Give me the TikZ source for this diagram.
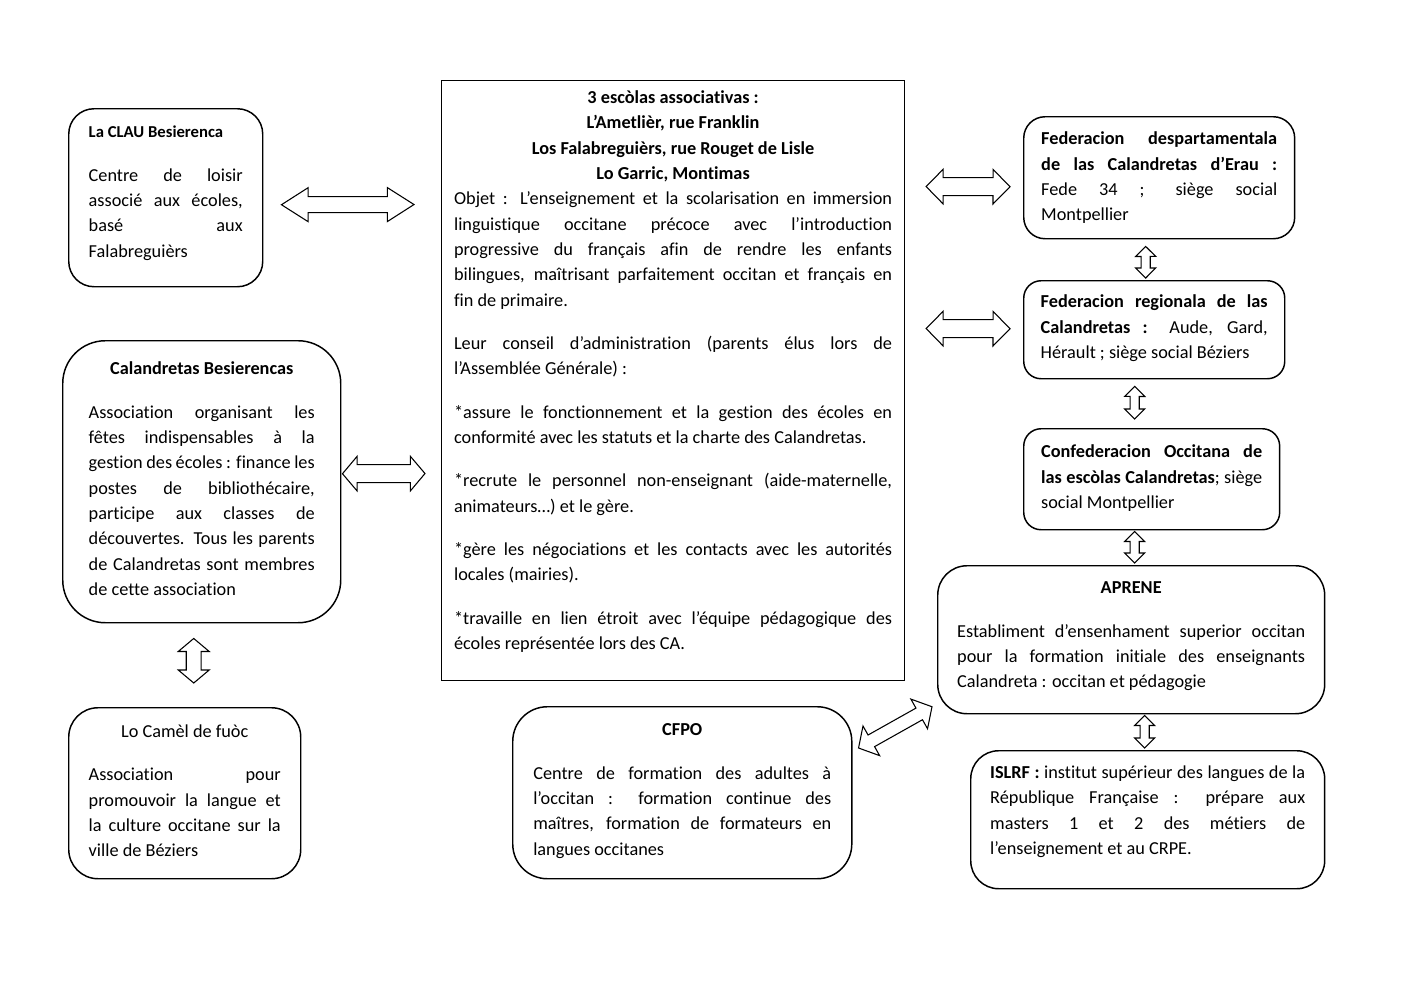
\documentclass[tikz,border=0pt]{standalone}
\usepackage{fontspec}
\setmainfont{Carlito}[Ligatures=NoCommon]
\usetikzlibrary{calc}
\hyphenpenalty=10000
\exhyphenpenalty=10000
\hbadness=10000
\vbadness=10000

\tikzset{
  orgbox/.style={draw, line width=1.1pt, anchor=north west, font=\fontsize{13.7}{19}\selectfont},
  arrowline/.style={line width=0.8pt, line join=miter},
  dblarrow/.style n args={3}{to path={
      -- ($(\tikztostart)!#1!(\tikztotarget)!#2!90:(\tikztotarget)$)
      -- ($(\tikztostart)!#1!(\tikztotarget)!#3!90:(\tikztotarget)$)
      -- ($(\tikztotarget)!#1!(\tikztostart)!#3!-90:(\tikztostart)$)
      -- ($(\tikztotarget)!#1!(\tikztostart)!#2!-90:(\tikztostart)$)
      -- (\tikztotarget)
      -- ($(\tikztotarget)!#1!(\tikztostart)!#2!90:(\tikztostart)$)
      -- ($(\tikztotarget)!#1!(\tikztostart)!#3!90:(\tikztostart)$)
      -- ($(\tikztostart)!#1!(\tikztotarget)!#3!-90:(\tikztotarget)$)
      -- ($(\tikztostart)!#1!(\tikztotarget)!#2!-90:(\tikztotarget)$)
      -- cycle}}
}

\begin{document}
\begin{tikzpicture}[x=0.75pt,y=0.75pt,yscale=-1,xscale=1]
\useasboundingbox (0,0) rectangle (1403,992);

% Text Node
\node (clau) [orgbox, rounded corners=19pt, inner xsep=15pt, inner ysep=13pt] at (68,108) {\begin{minipage}[t][107.5pt][t]{115.5pt}\setlength\parskip{13.5pt}
{\fontsize{12.5}{19}\selectfont\bfseries La CLAU Besierenca\par}
Centre de loisir\linebreak associé aux écoles,\linebreak basé aux\linebreak Falabreguièrs
\end{minipage}};
% Text Node
\node (calbes) [orgbox, rounded corners=32pt, inner xsep=19.5pt, inner ysep=15.9pt] at (62,340) {\begin{minipage}[t][179.7pt][t]{169.5pt}\setlength\parskip{13.5pt}
{\centering\bfseries Calandretas Besierencas\par}
Association organisant les\linebreak fêtes indispensables à la\linebreak gestion des écoles~: finance les\linebreak postes de bibliothécaire,\linebreak participe aux classes de\linebreak découvertes. Tous les parents\linebreak de Calandretas sont membres\linebreak de cette association
\end{minipage}};
% Text Node
\node (camel) [orgbox, rounded corners=22pt, inner xsep=15pt, inner ysep=12.9pt] at (68,707) {\begin{minipage}[t][102.45pt][t]{144pt}\setlength\parskip{13.5pt}
{\centering Lo Camèl de fuòc\par}
Association pour\linebreak promouvoir la langue et\linebreak la culture occitane sur la\linebreak ville de Béziers
\end{minipage}};
% Text Node
\node (ecolas) [orgbox, line width=0.8pt, inner xsep=9.4pt, inner ysep=7.65pt] at (441,80) {\begin{minipage}[t][434.7pt][t]{328.5pt}\setlength\parskip{13.5pt}
{\centering\bfseries 3 escòlas associativas~:\\ L’Ametlièr, rue Franklin\\ Los Falabreguièrs, rue Rouget de Lisle\\ Lo Garric, Montimas\par}
\vspace{-13.5pt}
Objet~: L’enseignement et la scolarisation en immersion\linebreak linguistique occitane précoce avec l’introduction\linebreak progressive du français afin de rendre les enfants\linebreak bilingues, maîtrisant parfaitement occitan et français en\linebreak fin de primaire.

Leur conseil d’administration (parents élus lors de\linebreak l’Assemblée Générale)~:

*assure le fonctionnement et la gestion des écoles en\linebreak conformité avec les statuts et la charte des Calandretas.

*recrute le personnel non-enseignant (aide-maternelle,\linebreak animateurs…) et le gère.

*gère les négociations et les contacts avec les autorités\linebreak locales (mairies).

*travaille en lien étroit avec l’équipe pédagogique des\linebreak écoles représentée lors des CA.
\end{minipage}};
% Text Node
\node (cfpo) [orgbox, rounded corners=26pt, inner xsep=15.4pt, inner ysep=12.9pt] at (512,706) {\begin{minipage}[t][103.2pt][t]{223.5pt}\setlength\parskip{13.5pt}
{\centering\bfseries CFPO\par}
Centre de formation des adultes à\linebreak l’occitan~: formation continue des\linebreak maîtres, formation de formateurs en\linebreak langues occitanes
\end{minipage}};
% Text Node
\node (feddep) [orgbox, rounded corners=16pt, inner xsep=13.1pt, inner ysep=11.4pt] at (1023,116) {\begin{minipage}[t][68.7pt][t]{177pt}
\textbf{Federacion despartamentala\linebreak de las Calandretas d’Erau~:}\linebreak Fede 34~; siège social\linebreak Montpellier
\end{minipage}};
% Text Node
\node (fedreg) [orgbox, rounded corners=13pt, inner xsep=12.75pt, inner ysep=10.65pt] at (1023,280) {\begin{minipage}[t][52.2pt][t]{170.25pt}
\textbf{Federacion regionala de las\linebreak Calandretas~:} Aude, Gard,\linebreak Hérault~; siège social Béziers
\end{minipage}};
% Text Node
\node (confed) [orgbox, rounded corners=13pt, inner xsep=13.1pt, inner ysep=12.15pt] at (1023,428) {\begin{minipage}[t][51.45pt][t]{165.75pt}
\textbf{Confederacion Occitana de\linebreak las escòlas Calandretas}; siège\linebreak social Montpellier
\end{minipage}};
% Text Node
\node (aprene) [orgbox, rounded corners=22pt, inner xsep=14.6pt, inner ysep=12.15pt] at (937,565) {\begin{minipage}[t][86.7pt][t]{261pt}\setlength\parskip{13.5pt}
{\centering\bfseries APRENE\par}
Establiment d’ensenhament superior occitan\linebreak pour la formation initiale des enseignants\linebreak Calandreta~: occitan et pédagogie
\end{minipage}};
% Text Node
\node (islrf) [orgbox, rounded corners=21pt, inner xsep=14.6pt, inner ysep=11.4pt] at (970,750) {\begin{minipage}[t][80.7pt][t]{236.25pt}
\textbf{ISLRF~:} institut supérieur des langues de la\linebreak République Française~: prépare aux\linebreak masters 1 et 2 des métiers de\linebreak l’enseignement et au CRPE.
\end{minipage}};

%Arrow ends
\coordinate (a1s) at ($(clau.east)+(18,7)$);
\coordinate (a1e) at ($(ecolas.west)+(-27,-176)$);
\coordinate (a2s) at ($(calbes.east)+(1,-8)$);
\coordinate (a2e) at ($(ecolas.west)+(-16,93)$);
\coordinate (a3s) at ($(calbes.south)+(-8,15)$);
\coordinate (a3e) at ($(camel.north)+(9,-24)$);
\coordinate (a4s) at ($(ecolas.east)+(21,-194)$);
\coordinate (a4e) at ($(feddep.west)+(-13,9)$);
\coordinate (a5s) at ($(ecolas.east)+(21,-52)$);
\coordinate (a5e) at ($(fedreg.west)+(-13,-1)$);
\coordinate (a6s) at ($(feddep.south)+(-13.5,7)$);
\coordinate (a6e) at ($(fedreg.north)+(-8.5,-2)$);
\coordinate (a7s) at ($(fedreg.south)+(-19.5,7)$);
\coordinate (a7e) at ($(confed.north)+(-17,-9)$);
\coordinate (a8s) at ($(confed.south)+(-17,1)$);
\coordinate (a8e) at ($(aprene.north)+(3.5,-2)$);
\coordinate (a9s) at ($(aprene.south)+(13.5,1)$);
\coordinate (a9e) at ($(islrf.north)+(-3,-2)$);
\coordinate (a10s) at ($(cfpo.north east)+(6,42)$);
\coordinate (a10e) at ($(aprene.west)+(-5,67)$);

%Double Arrows
\draw [arrowline] (a1s) to[dblarrow={20pt}{12.75pt}{6pt}] (a1e);
\draw [arrowline] (a2s) to[dblarrow={11pt}{13pt}{6.75pt}] (a2e);
\draw [arrowline] (a3s) to[dblarrow={9.75pt}{11.6pt}{5.6pt}] (a3e);
\draw [arrowline] (a4s) to[dblarrow={12.75pt}{13pt}{6.75pt}] (a4e);
\draw [arrowline] (a5s) to[dblarrow={12.75pt}{13pt}{6.75pt}] (a5e);
\draw [arrowline] (a6s) to[dblarrow={7.5pt}{7.5pt}{3.4pt}] (a6e);
\draw [arrowline] (a7s) to[dblarrow={7.5pt}{7.5pt}{3.4pt}] (a7e);
\draw [arrowline] (a8s) to[dblarrow={7.5pt}{7.5pt}{3.4pt}] (a8e);
\draw [arrowline] (a9s) to[dblarrow={7.5pt}{7.5pt}{3.4pt}] (a9e);
\draw [arrowline] (a10s) to[dblarrow={11pt}{12.75pt}{5pt}] (a10e);

\end{tikzpicture}
\end{document}
